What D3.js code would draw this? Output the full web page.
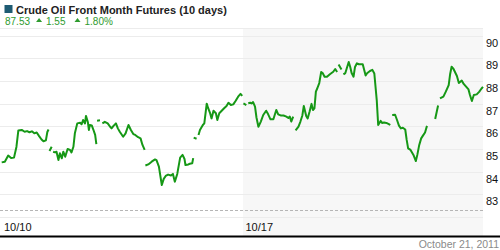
<!DOCTYPE html>
<html>
<head>
<meta charset="utf-8">
<script src="https://cdn.jsdelivr.net/npm/d3@7"></script>
<style>
  html, body { margin: 0; padding: 0; background: #fff; }
  svg { display: block; font-family: "Liberation Sans", Arial, sans-serif; }
</style>
</head>
<body>
<svg id="chart" width="500" height="250"></svg>
<script>
// ---- data ----
const title = "Crude Oil Front Month Futures (10 days)";
const lastPrice = "87.53";
const change = "1.55";
const changePct = "1.80%";
const dateLabel = "October 21, 2011";
const yTicks = [83, 84, 85, 86, 87, 88, 89, 90];
const xTickLabels = ["10/10", "10/17"];
const xTickPos = [0, 5];            // trading-day offsets
// trading-day offset (0..10) and price; null marks a break in the line
const t = [
  0.035,0.10,0.17,0.23,0.29,0.34,0.38,0.45,0.51,0.56,0.61,0.66,0.71,0.76,0.81,0.86,0.90,0.95,0.98,1.005,null,
  1.025,1.07,null,
  1.10,1.14,1.17,1.21,1.24,1.28,1.31,1.35,1.40,1.45,1.48,1.52,1.55,1.60,1.66,1.69,1.72,1.76,1.78,1.82,1.84,1.86,1.90,1.93,1.97,1.995,null,
  2.01,2.07,null,
  2.12,2.17,2.23,2.28,2.31,2.35,2.40,2.44,2.48,2.55,2.60,2.66,2.71,2.76,2.80,2.86,2.91,2.95,2.995,null,
  3.01,3.07,3.14,3.21,3.24,3.29,3.35,3.39,3.43,3.48,3.54,3.58,3.62,3.67,3.73,3.78,3.82,3.84,3.90,3.93,3.98,4.00,null,
  4.01,4.07,null,
  4.11,4.14,4.20,4.23,4.28,4.31,4.35,4.38,4.42,4.47,4.50,4.54,4.59,4.64,4.69,4.73,4.78,4.83,4.88,4.93,4.98,5.015,null,
  5.04,5.10,null,
  5.14,5.18,5.21,5.24,5.28,5.31,5.35,5.40,5.45,5.51,5.55,5.60,5.66,5.72,5.76,5.81,5.87,5.93,5.97,6.00,6.03,6.07,null,
  6.12,6.18,6.22,6.26,6.29,6.34,6.37,6.41,6.45,6.48,6.51,6.54,6.57,6.61,6.65,6.68,6.72,6.77,6.83,6.90,6.94,6.98,null,
  7.01,7.07,null,
  7.11,7.15,7.18,7.22,7.25,7.28,7.32,7.35,7.39,7.43,7.51,7.57,7.60,7.66,7.71,7.75,7.80,7.83,7.88,7.91,7.95,8.00,8.05,8.08,null,
  8.12,8.18,8.22,8.26,8.30,8.34,8.39,8.42,8.45,8.50,8.56,8.61,8.64,8.68,8.72,8.76,8.80,8.84,null,
  9.01,9.07,null,
  9.11,9.18,9.23,9.29,9.32,9.35,9.39,9.46,9.50,9.56,9.60,9.65,9.70,9.73,9.77,9.81,9.87,9.92,9.97,10.0
];
const price = [
  84.41,84.44,84.71,84.60,84.62,85.09,85.82,85.84,85.76,85.79,85.74,85.78,85.69,85.73,85.57,85.42,85.34,85.38,85.75,85.86,null,
  84.91,85.10,null,
  84.88,84.85,84.88,84.51,84.81,84.59,84.88,84.66,85.00,84.96,84.85,85.10,85.69,86.13,86.16,86.09,86.28,86.13,86.46,86.18,85.84,86.06,86.04,85.87,85.62,85.22,null,
  86.25,86.27,null,
  86.13,86.20,86.13,85.98,85.91,86.02,86.13,85.91,85.76,85.54,85.69,86.06,85.84,85.66,85.62,85.52,85.47,85.18,84.96,null,
  84.27,84.32,84.44,84.54,84.51,84.22,83.41,83.68,83.81,83.87,83.83,83.90,83.56,83.90,84.62,84.74,84.56,84.29,84.32,84.35,84.37,84.60,null,
  85.50,85.45,null,
  85.62,85.84,86.06,86.13,87.00,86.80,86.58,86.35,86.69,86.58,86.28,86.58,86.69,86.80,86.90,87.04,86.94,86.97,87.13,87.31,87.43,87.34,null,
  87.01,86.94,null,
  87.02,87.04,87.01,87.07,86.87,86.39,85.98,86.21,86.50,86.69,86.54,86.31,86.31,86.72,86.53,86.48,86.48,86.43,86.37,86.43,86.21,86.43,null,
  85.82,85.99,86.21,86.48,86.90,86.46,86.35,86.65,86.99,86.72,86.79,87.53,87.68,87.91,88.40,88.35,88.19,88.19,88.30,88.41,88.53,88.40,null,
  88.73,88.51,null,
  88.29,88.35,88.56,88.84,88.63,88.35,88.19,88.62,88.78,88.74,88.74,88.24,88.34,88.44,88.49,88.33,87.16,86.06,86.24,86.15,86.17,86.15,86.10,86.06,null,
  86.50,86.51,86.28,86.03,85.91,85.94,85.86,85.40,85.03,84.96,84.74,84.47,84.74,85.18,85.47,85.60,85.73,86.02,null,
  86.32,86.92,null,
  87.23,87.31,87.53,87.82,88.31,88.63,88.53,88.22,87.91,88.02,87.87,87.75,87.63,87.38,87.12,87.38,87.41,87.52,87.67,87.74
];

// ---- chart ----
const W = 500, H = 250;
const FONT = "\"Liberation Sans\", Arial, sans-serif";
const svg = d3.select("#chart");
const x = d3.scaleLinear().domain([0, 10]).range([0, 483]);
const y = d3.scaleLinear().domain([82, 91]).range([217, 13]);
const plotTop = 28.5, axisLineY = 236.5;
const xRight = x(10);

// shaded second week
svg.append("rect")
  .attr("x", x(5) + 1.5).attr("y", plotTop)
  .attr("width", xRight - x(5) - 1.5).attr("height", axisLineY - plotTop)
  .attr("fill", "#f7f7f7");

// top border
svg.append("line").attr("x1", 0).attr("x2", xRight)
  .attr("y1", plotTop).attr("y2", plotTop)
  .attr("stroke", "#ececec").attr("stroke-width", 1);

// grid lines + y labels
const yAxis = d3.axisRight(y).tickValues(yTicks).tickSize(-xRight).tickFormat(d3.format("d"));
const gy = svg.append("g").attr("transform", `translate(${xRight},0)`).call(yAxis);
gy.select(".domain").remove();
gy.selectAll(".tick line").attr("stroke", "#ececec").attr("shape-rendering", "crispEdges");
gy.selectAll(".tick text")
  .attr("x", 3).attr("dy", "0.95em")
  .attr("fill", "#111").style("font-size", "11px")
  .style("font-family", FONT);

// dashed baseline and bottom light line
svg.append("line").attr("x1", 0).attr("x2", xRight)
  .attr("y1", 210.5).attr("y2", 210.5)
  .attr("stroke", "#b5b5b5").attr("stroke-dasharray", "3,2");
svg.append("line").attr("x1", 0).attr("x2", xRight)
  .attr("y1", y(82) + 0.5).attr("y2", y(82) + 0.5)
  .attr("stroke", "#ececec");

// x labels
const xAxis = d3.axisBottom(x).tickValues(xTickPos)
  .tickFormat((d, i) => xTickLabels[i]).tickSize(0);
const gx = svg.append("g").attr("transform", `translate(0,${y(82)})`).call(xAxis);
gx.select(".domain").remove();
gx.selectAll(".tick text")
  .attr("text-anchor", "start").attr("x", 3.5).attr("y", 6).attr("dy", "0.71em")
  .attr("fill", "#111").style("font-size", "11px")
  .style("font-family", FONT);

// black axis line
svg.append("line").attr("x1", 0).attr("x2", W)
  .attr("y1", axisLineY).attr("y2", axisLineY)
  .attr("stroke", "#000").attr("stroke-width", 2);

// price line
const pts = t.map((d, i) => ({ t: d, p: price[i] }));
const line = d3.line()
  .defined(d => d.p != null && d.t != null)
  .x(d => x(d.t)).y(d => y(d.p));
svg.append("path").datum(pts)
  .attr("d", line)
  .attr("fill", "none").attr("stroke", "#169816")
  .attr("stroke-width", 2).attr("stroke-linejoin", "round");

// header
svg.append("rect").attr("x", 4.5).attr("y", 5).attr("width", 8).attr("height", 8)
  .attr("fill", "#1e5b73");
svg.append("text").attr("x", 16).attr("y", 14)
  .style("font-size", "11px").style("font-weight", "bold").attr("fill", "#222")
  .style("font-family", FONT)
  .text(title);

const green = "#2e9b2e";
let cx = 5;
function hdrText(str) {
  const el = svg.append("text").attr("x", cx).attr("y", 24.5)
    .style("font-size", "10px").style("font-family", FONT).attr("fill", green).text(str);
  cx += el.node().getComputedTextLength();
}
function hdrTri() {
  svg.append("path")
    .attr("d", `M${cx},22 L${cx + 6},22 L${cx + 3},18 Z`)
    .attr("fill", green);
  cx += 6;
}
hdrText(lastPrice);
cx += 6; hdrTri(); cx += 4;
hdrText(change);
cx += 9; hdrTri(); cx += 4;
hdrText(changePct);

// date footer
svg.append("text").attr("x", 499).attr("y", 247.5)
  .attr("text-anchor", "end").style("font-size", "10.5px").attr("fill", "#8a8a8a")
  .style("font-family", FONT)
  .text(dateLabel);
</script>
</body>
</html>
